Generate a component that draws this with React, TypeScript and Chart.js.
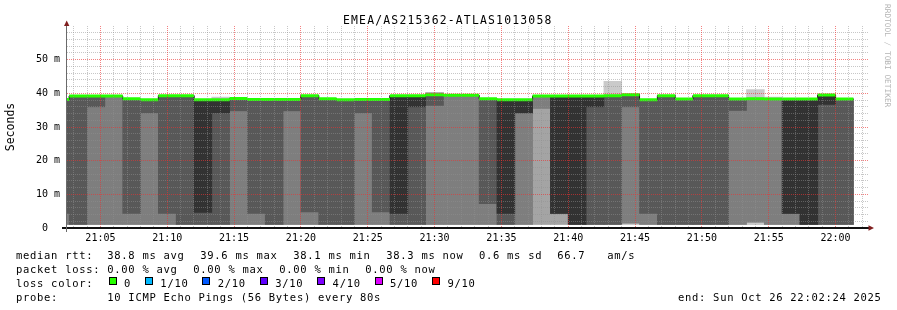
import React, { useEffect, useRef } from 'react';
import Chart from 'chart.js/auto';

// ---------------- data ----------------
const titleText = 'EMEA/AS215362-ATLAS1013058';
// end time of every 80 s step
const sampleTimes = [
  '21:02:40', '21:04:00', '21:05:20', '21:06:40', '21:08:00', '21:09:20', '21:10:40', '21:12:00', '21:13:20',
  '21:14:40', '21:16:00', '21:17:20', '21:18:40', '21:20:00', '21:21:20', '21:22:40', '21:24:00', '21:25:20',
  '21:26:40', '21:28:00', '21:29:20', '21:30:40', '21:32:00', '21:33:20', '21:34:40', '21:36:00', '21:37:20',
  '21:38:40', '21:40:00', '21:41:20', '21:42:40', '21:44:00', '21:45:20', '21:46:40', '21:48:00', '21:49:20',
  '21:50:40', '21:52:00', '21:53:20', '21:54:40', '21:56:00', '21:57:20', '21:58:40', '22:00:00', '22:01:20',
];
const stepSeconds = 80;

// sorted ping results (ms), ping1 = fastest ... ping10 = slowest
const ping1 = [
  1.1, 1.1, 1.1, 1.1, 1.1, 1.1, 1.1, 1.1, 1.1, 1.1, 1.1, 1.1, 1.1, 1.1, 1.1, 1.1, 1.1, 1.1, 1.1, 1.1, 1.1, 1.1, 1.1,
  1.1, 1.1, 1.1, 1.1, 1.1, 1.1, 1.1, 1.1, 1.1, 1.0, 1.1, 1.1, 1.1, 1.1, 1.1, 1.1, 1.0, 1.1, 1.1, 1.1, 1.1, 1.1,
];
const ping2 = [
  1.1, 1.1, 1.1, 1.1, 1.1, 1.1, 1.1, 1.1, 1.1, 1.1, 1.1, 1.1, 1.1, 1.1, 1.1, 1.1, 1.1, 1.1, 1.1, 1.1, 1.1, 1.1, 1.1,
  1.1, 1.1, 1.1, 1.1, 1.1, 1.1, 1.1, 1.1, 1.1, 1.45, 1.1, 1.1, 1.1, 1.1, 1.1, 1.1, 1.7, 1.1, 1.1, 1.1, 1.1, 1.1,
];
const ping3 = [
  1.1, 1.1, 1.1, 1.1, 1.1, 1.1, 1.1, 1.1, 1.1, 1.1, 1.1, 1.1, 1.1, 1.1, 1.1, 1.1, 1.1, 1.1, 1.1, 1.1, 1.1, 1.1, 1.1,
  1.1, 1.1, 1.1, 1.1, 35.5, 4.3, 1.1, 1.1, 1.1, 1.45, 1.1, 1.1, 1.1, 1.1, 1.1, 1.1, 1.7, 1.1, 1.1, 1.1, 1.1, 1.1,
];
const ping4 = [
  4.3, 1.1, 36.0, 39.2, 4.3, 34.2, 4.3, 1.1, 1.1, 1.1, 34.8, 4.3, 1.1, 34.8, 4.8, 1.1, 1.1, 34.2, 4.8, 1.1, 1.1, 36.4, 39.4,
  39.4, 7.2, 1.1, 34.2, 39.2, 4.3, 1.1, 1.1, 1.1, 36.0, 4.3, 1.1, 1.1, 1.1, 1.1, 34.9, 38.4, 38.3, 4.3, 1.1, 1.1, 1.1,
];
const ping5 = [
  38.2, 39.2, 39.2, 39.2, 38.4, 38.1, 39.3, 39.3, 4.6, 34.2, 38.5, 38.2, 38.2, 38.2, 39.3, 38.4, 38.1, 38.2, 38.2, 4.3, 36.0, 39.6, 39.4,
  39.4, 38.4, 4.3, 34.2, 39.2, 4.3, 1.1, 36.0, 39.3, 39.6, 38.1, 39.3, 38.3, 39.3, 39.3, 38.3, 38.4, 38.3, 4.3, 1.1, 36.7, 38.3,
];
const ping6 = [
  38.2, 39.2, 39.2, 39.2, 38.4, 38.1, 39.3, 39.3, 38.1, 38.1, 38.5, 38.2, 38.2, 38.2, 39.3, 38.4, 38.1, 38.2, 38.2, 39.3, 39.3, 39.6, 39.4,
  39.4, 38.4, 38.1, 38.1, 39.2, 39.2, 39.2, 39.2, 39.3, 39.6, 38.1, 39.3, 38.3, 39.3, 39.3, 38.3, 38.4, 38.3, 38.3, 38.3, 39.5, 38.3,
];
const ping7 = [
  38.2, 39.2, 39.2, 39.2, 38.4, 38.1, 39.3, 39.3, 38.1, 38.1, 38.5, 38.2, 38.2, 38.2, 39.3, 38.4, 38.1, 38.2, 38.2, 39.3, 39.3, 39.6, 39.4,
  39.4, 38.4, 38.1, 38.1, 39.2, 39.2, 39.2, 39.2, 39.3, 39.6, 38.1, 39.3, 38.3, 39.3, 39.3, 38.3, 38.4, 38.3, 38.3, 38.3, 39.5, 38.3,
];
const ping8 = [
  38.2, 39.2, 39.2, 39.2, 38.4, 38.1, 39.3, 39.3, 38.1, 38.1, 38.5, 38.2, 38.2, 38.2, 39.3, 38.4, 38.1, 38.2, 38.2, 39.3, 39.3, 39.6, 39.4,
  39.4, 38.4, 38.1, 38.1, 39.2, 39.2, 39.2, 39.2, 39.3, 39.6, 38.1, 39.3, 38.3, 39.3, 39.3, 38.3, 38.4, 38.3, 38.3, 38.3, 39.5, 38.3,
];
const ping9 = [
  38.2, 39.2, 39.2, 39.2, 38.4, 38.1, 39.3, 39.3, 38.1, 38.1, 38.5, 38.2, 38.2, 38.2, 39.3, 38.4, 38.1, 38.2, 38.2, 39.3, 39.3, 40.2, 39.4,
  39.4, 38.4, 38.1, 38.1, 39.2, 39.2, 39.2, 39.2, 39.3, 39.6, 38.1, 39.3, 38.3, 39.3, 39.3, 38.3, 38.4, 38.3, 38.3, 38.3, 39.5, 38.3,
];
const ping10 = [
  38.2, 39.2, 39.2, 39.2, 38.4, 38.1, 39.3, 39.3, 38.1, 38.9, 38.5, 38.2, 38.2, 38.2, 39.3, 38.4, 38.1, 38.2, 38.2, 39.3, 39.3, 40.2, 39.4,
  39.4, 38.4, 38.1, 38.1, 39.2, 39.2, 39.2, 39.2, 43.6, 39.6, 38.1, 39.3, 38.3, 39.3, 39.3, 38.3, 41.1, 38.9, 38.3, 38.3, 39.5, 38.3,
];
// smokeping's median of 10 pings is the 6th sorted value
const medianRtt = ping6;

const smokeColors = ['#cacaca', '#a4a4a4', '#7e7e7e', '#585858', '#323232'];
const lossLabels = ['0', '1/10', '2/10', '3/10', '4/10', '5/10', '9/10'];
const lossColors = ['#26ff00', '#00b8ff', '#0059ff', '#5e00ff', '#7e00ff', '#dd00ff', '#ff0000'];

const xTickLabels = ['21:05', '21:10', '21:15', '21:20', '21:25', '21:30', '21:35', '21:40', '21:45', '21:50', '21:55', '22:00'];
const yTickValues = [0, 10, 20, 30, 40, 50];
const yTickLabels = ['0  ', '10 m', '20 m', '30 m', '40 m', '50 m'];
const axisStart = '21:02:30';
const axisEnd = '22:02:30';
const yMaxMs = 60;

const rttStatValues = ['38.8', '39.6', '38.1', '38.3'];
const statNames = ['avg', 'max', 'min', 'now'];
const rttSd = '0.6';
const amPerSecond = '66.7';
const lossStatValues = ['0.00', '0.00', '0.00', '0.00'];
const probeText = '10 ICMP Echo Pings (56 Bytes) every 80s';
const endText = 'end: Sun Oct 26 22:02:24 2025';
const watermark = 'RRDTOOL / TOBI OETIKER';

// ---------------- helpers ----------------
const MONO = '"DejaVu Sans Mono", monospace';
const baseHour = 21;
const toMin = (t: string) => {
  const [h, m, s] = t.split(':').map(Number);
  return (h - baseHour) * 60 + m + (s || 0) / 60;
};

const axesPlugin = {
  id: 'rrdAxes',
  afterDraw(chart: any) {
    const { ctx, chartArea: a } = chart;
    ctx.save();
    ctx.strokeStyle = '#111';
    ctx.lineWidth = 2;
    ctx.beginPath();
    ctx.moveTo(a.left - 5, a.bottom);
    ctx.lineTo(a.right + 1, a.bottom);
    ctx.stroke();
    ctx.strokeStyle = '#6a6a6a';
    ctx.lineWidth = 1;
    ctx.beginPath();
    ctx.moveTo(a.left - 0.5, a.top - 4);
    ctx.lineTo(a.left - 0.5, a.bottom + 4);
    ctx.stroke();
    ctx.fillStyle = '#801f1f';
    ctx.beginPath();
    ctx.moveTo(a.left - 3, a.top);
    ctx.lineTo(a.left + 2.4, a.top);
    ctx.lineTo(a.left - 0.3, a.top - 5.5);
    ctx.closePath();
    ctx.fill();
    ctx.beginPath();
    ctx.moveTo(a.right - 0.5, a.bottom - 2.8);
    ctx.lineTo(a.right - 0.5, a.bottom + 2.8);
    ctx.lineTo(a.right + 5, a.bottom);
    ctx.closePath();
    ctx.fill();
    ctx.restore();
  },
};

export default function App() {
  const canvasRef = useRef<HTMLCanvasElement>(null);

  useEffect(() => {
    const pings = [ping1, ping2, ping3, ping4, ping5, ping6, ping7, ping8, ping9, ping10];
    const stepMin = stepSeconds / 60;
    const ends = sampleTimes.map(toMin);
    const starts = ends.map((e) => e - stepMin);
    const centers = ends.map((e) => e - stepMin / 2);
    const n = sampleTimes.length;

    const smoke = smokeColors.map((color, b) => ({
      type: 'bar',
      label: 'smoke' + (b + 1),
      data: centers.map((x, i) => {
        const lo = pings[b][i];
        const hi = pings[9 - b][i];
        return { x, y: hi > lo ? [lo, hi] : null };
      }),
      backgroundColor: color,
      borderWidth: 0,
      grouped: false,
      barPercentage: 1,
      categoryPercentage: 1,
      order: 10 - b,
      clip: 0,
      xAxisID: 'x',
      yAxisID: 'y',
    }));

    const stepLine: any[] = starts.map((x, i) => ({ x, y: medianRtt[i] }));
    stepLine.push({ x: ends[n - 1], y: medianRtt[n - 1] });

    const greenSegs: any[] = [];
    for (let i = 0; i < n; i++) {
      greenSegs.push({ x: starts[i], y: medianRtt[i] }, { x: ends[i], y: medianRtt[i] }, { x: ends[i], y: null });
    }

    const xMin = toMin(axisStart);
    const xMax = toMin(axisEnd);
    const xTickValues = xTickLabels.map(toMin);
    const xMinorValues: number[] = [];
    for (let m = Math.ceil(xMin); m <= Math.floor(xMax); m++) if (!xTickValues.includes(m)) xMinorValues.push(m);
    const yMinorValues: number[] = [];
    for (let v = 2; v < yMaxMs; v += 2) if (!yTickValues.includes(v)) yMinorValues.push(v);

    const majorGrid = 'rgba(235,50,50,0.62)';
    const minorGrid = 'rgba(143,143,143,0.5)';

    const chart = new Chart(canvasRef.current as HTMLCanvasElement, {
      type: 'bar',
      data: {
        datasets: [
          {
            type: 'line',
            label: 'median',
            data: greenSegs,
            borderColor: lossColors[0],
            borderWidth: 3,
            borderCapStyle: 'butt',
            pointRadius: 0,
            spanGaps: false,
            tension: 0,
            order: 0,
            clip: 0,
            xAxisID: 'x',
            yAxisID: 'y',
          },
          {
            type: 'line',
            label: 'median-step',
            data: stepLine,
            stepped: true,
            borderColor: '#151515',
            borderWidth: 1,
            pointRadius: 0,
            order: 1,
            clip: 0,
            xAxisID: 'x',
            yAxisID: 'y',
          },
          ...smoke,
        ] as any,
      },
      options: {
        responsive: false,
        animation: false,
        events: [],
        layout: { padding: { left: 0, right: 28, top: 26, bottom: 62 } },
        plugins: { legend: { display: false }, tooltip: { enabled: false }, title: { display: false } },
        scales: {
          xMinor: {
            type: 'linear',
            position: 'bottom',
            min: xMin,
            max: xMax,
            offset: false,
            weight: 0,
            afterBuildTicks: (s: any) => { s.ticks = xMinorValues.map((value) => ({ value })); },
            afterFit: (s: any) => { s.height = 0; },
            grid: { color: minorGrid, lineWidth: 1, drawTicks: false, offset: false, z: 1 },
            border: { display: false, dash: [1, 1] },
            ticks: { display: false },
          },
          yMinor: {
            type: 'linear',
            position: 'left',
            min: 0,
            max: yMaxMs,
            weight: 0,
            afterBuildTicks: (s: any) => { s.ticks = yMinorValues.map((value) => ({ value })); },
            afterFit: (s: any) => { s.width = 0; },
            grid: { color: minorGrid, lineWidth: 1, drawTicks: false, z: 1 },
            border: { display: false, dash: [1, 1] },
            ticks: { display: false },
          },
          x: {
            type: 'linear',
            position: 'bottom',
            min: xMin,
            max: xMax,
            offset: false,
            weight: 1,
            afterBuildTicks: (s: any) => { s.ticks = xTickValues.map((value) => ({ value })); },
            afterFit: (s: any) => { s.height = 20; },
            grid: { color: majorGrid, lineWidth: 1, drawTicks: false, offset: false, z: 2 },
            border: { display: false, dash: [1, 1] },
            ticks: {
              autoSkip: false,
              maxRotation: 0,
              padding: 4,
              color: '#000',
              font: { family: MONO, size: 10 },
              callback: (_v: any, i: number) => xTickLabels[i],
            },
          },
          y: {
            type: 'linear',
            position: 'left',
            min: 0,
            max: yMaxMs,
            weight: 1,
            afterBuildTicks: (s: any) => { s.ticks = yTickValues.map((value) => ({ value })); },
            afterFit: (s: any) => { s.width = 67; },
            grid: { color: majorGrid, lineWidth: 1, drawTicks: false, z: 2 },
            border: { display: false, dash: [1, 1] },
            ticks: {
              padding: 7,
              color: '#000',
              font: { family: MONO, size: 10 },
              callback: (_v: any, i: number) => yTickLabels[i],
            },
            title: {
              display: true,
              text: 'Seconds',
              color: '#000',
              font: { family: MONO, size: 11.5 },
              padding: { top: 4, bottom: 0 },
            },
          },
        },
      } as any,
      plugins: [axesPlugin],
    });
    return () => chart.destroy();
  }, []);

  const textStyle = (x: number, baseline: number): React.CSSProperties => ({
    position: 'absolute',
    left: x,
    top: baseline - 10.63,
    fontFamily: MONO,
    fontSize: 10.5,
    letterSpacing: '0.7px',
    lineHeight: '14px',
    whiteSpace: 'pre',
    color: '#000',
  });

  const rows = [258.3, 272.3, 286.3, 300.3];
  const firstCol = 107.3;
  const charW = 7.02;
  const lossItems: { box: number; label: string; color: string }[] = [];
  let bx = 108.7;
  lossLabels.forEach((label, i) => {
    lossItems.push({ box: bx, label, color: lossColors[i] });
    bx += 15.3 + (label.length + 2) * charW;
  });

  return (
    <div style={{ position: 'absolute', left: 0, top: 0, width: 897, height: 310, background: '#fff', overflow: 'hidden' }}>
      <canvas ref={canvasRef} width={897} height={310} style={{ position: 'absolute', left: 0, top: 0, width: 897, height: 310 }} />
      <div
        style={{
          position: 'absolute',
          left: 343,
          top: 13,
          fontFamily: MONO,
          fontSize: 11.4,
          letterSpacing: '1.2px',
          lineHeight: '14px',
          whiteSpace: 'pre',
          color: '#000',
        }}
      >
        {titleText}
      </div>
      <div
        style={{
          position: 'absolute',
          left: 882,
          top: 3.5,
          fontFamily: MONO,
          fontSize: 7.8,
          lineHeight: '10px',
          writingMode: 'vertical-rl',
          whiteSpace: 'pre',
          color: '#b4b4b4',
        }}
      >
        {watermark}
      </div>

      <div style={textStyle(16, rows[0])}>median rtt:</div>
      {rttStatValues.map((v, i) => (
        <div key={'r' + i} style={textStyle(firstCol + i * 93, rows[0])}>{`${v} ms ${statNames[i]}`}</div>
      ))}
      <div style={textStyle(479, rows[0])}>{`${rttSd} ms sd`}</div>
      <div style={textStyle(557.3, rows[0])}>{amPerSecond}</div>
      <div style={textStyle(607.3, rows[0])}>am/s</div>

      <div style={textStyle(16, rows[1])}>packet loss:</div>
      {lossStatValues.map((v, i) => (
        <div key={'l' + i} style={textStyle(firstCol + i * 86, rows[1])}>{`${v} % ${statNames[i]}`}</div>
      ))}

      <div style={textStyle(16, rows[2])}>loss color:</div>
      {lossItems.map((it, i) => (
        <React.Fragment key={'c' + i}>
          <div
            style={{
              position: 'absolute',
              left: Math.round(it.box),
              top: 277,
              width: 8,
              height: 8,
              background: it.color,
              border: '1px solid #000',
              boxSizing: 'border-box',
            }}
          />
          <div style={textStyle(it.box + 15.3, rows[2])}>{it.label}</div>
        </React.Fragment>
      ))}

      <div style={textStyle(16, rows[3])}>probe:</div>
      <div style={textStyle(firstCol, rows[3])}>{probeText}</div>
      <div style={textStyle(678, rows[3])}>{endText}</div>
    </div>
  );
}
